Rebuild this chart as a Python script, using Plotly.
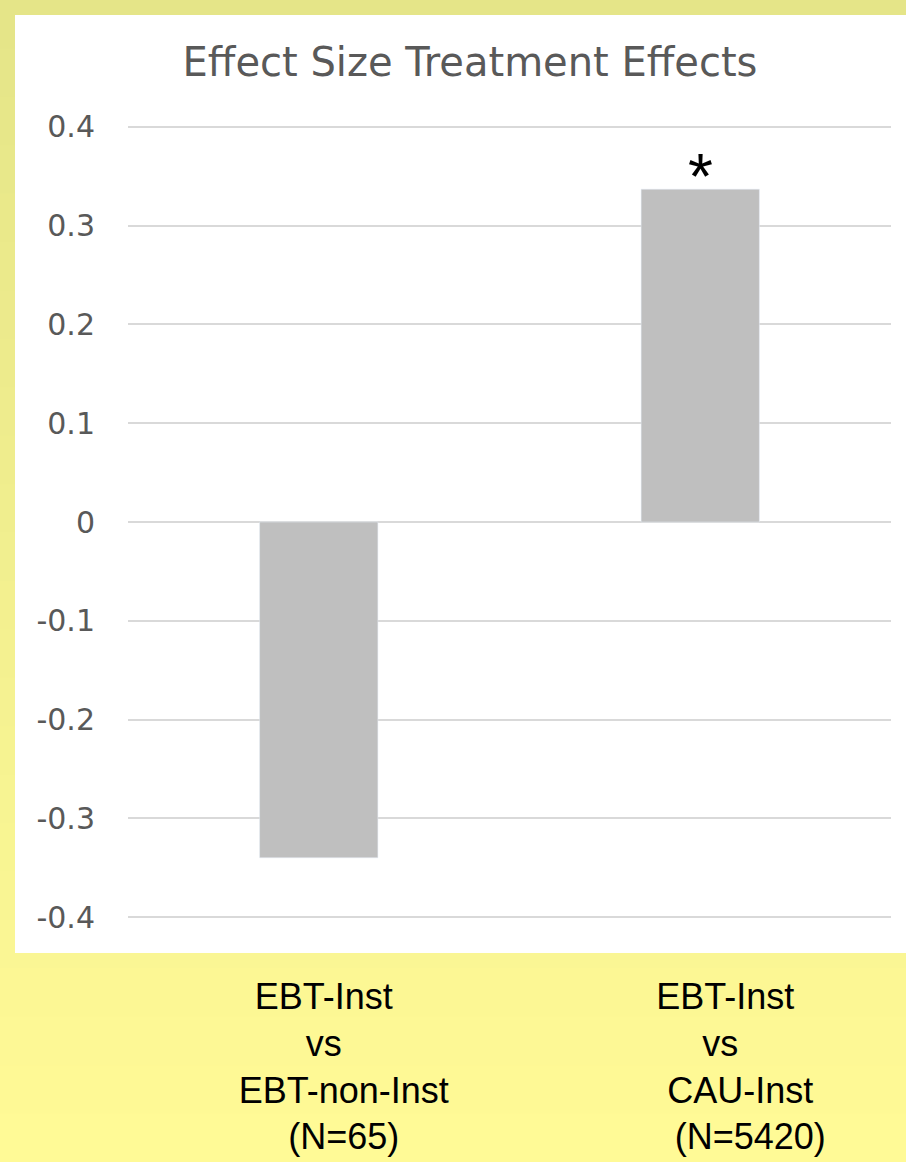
import plotly.graph_objects as go

NB = "\u00a0"
label_lines = [
    [(1, "EBT-Inst"), (1, "vs"), (5, "EBT-non-Inst"), (5, "(N=65)")],
    [(5, "EBT-Inst"), (4, "vs"), (8, "CAU-Inst"), (10, "(N=5420)")],
]
categories = ["<br>".join(NB * s + t for s, t in lines) for lines in label_lines]
values = [-0.34, 0.337]
markers = ["", "*"]
tick_vals = [-0.4, -0.3, -0.2, -0.1, 0, 0.1, 0.2, 0.3, 0.4]
tick_text = ["-0.4", "-0.3", "-0.2", "-0.1", "0", "0.1", "0.2", "0.3", "0.4"]

W, H = 906, 1162
L, R, T, B = 128, 15, 122, 240
pw, ph = W - L - R, H - T - B

def px_x(x):
    return (x - L) / pw

def px_y(y):
    return (H - B - y) / ph

fig = go.Figure()
fig.add_trace(go.Bar(
    x=[0, 1], y=values, marker_color="#bfbfbf", width=0.31,
    hoverinfo="skip",
))

for i, (v, m) in enumerate(zip(values, markers)):
    if m:
        fig.add_annotation(x=i, y=v, text=m, showarrow=False, yanchor="bottom",
                           yshift=-26, font=dict(family="Liberation Sans", size=64, color="black"))

shapes = []
top = (0xE5, 0xE5, 0x88)
bot = (0xFF, 0xFA, 0x96)
n = 24
for k in range(n):
    t = k / (n - 1)
    c = tuple(round(top[j] + (bot[j] - top[j]) * t) for j in range(3))
    y0 = k * H / n
    y1 = (k + 1) * H / n + 1
    shapes.append(dict(type="rect", xref="paper", yref="paper",
                       x0=px_x(-2), x1=px_x(W + 2), y0=px_y(y1), y1=px_y(y0),
                       fillcolor="rgb(%d,%d,%d)" % c, line_width=0, layer="below"))
shapes.append(dict(type="rect", xref="paper", yref="paper",
                   x0=px_x(15), x1=px_x(W + 5), y0=px_y(953), y1=px_y(15),
                   fillcolor="white", line_width=0, layer="below"))

fig.update_layout(
    width=W, height=H,
    margin=dict(l=L, r=R, t=T, b=B, pad=0, autoexpand=False),
    paper_bgcolor="#fff996",
    plot_bgcolor="rgba(0,0,0,0)",
    shapes=shapes,
    showlegend=False,
    title=dict(text="Effect Size Treatment Effects", x=470 / W, xanchor="center",
               y=1 - 62 / H, yanchor="middle", xref="container", yref="container",
               font=dict(family="DejaVu Sans", size=40, color="#595959")),
    bargap=0.69,
)
fig.update_yaxes(range=[-0.405, 0.405], tickvals=tick_vals, ticktext=tick_text,
                 showgrid=True, gridcolor="#d9d9d9", gridwidth=1.5,
                 zeroline=True, zerolinecolor="#d9d9d9", zerolinewidth=1.5,
                 showline=False, ticks="", ticklabelstandoff=32, automargin=False,
                 tickfont=dict(family="DejaVu Sans", size=30, color="#595959"))
fig.update_xaxes(range=[-0.5, 1.5], tickvals=[0, 1], ticktext=categories,
                 showgrid=False, zeroline=False, showline=False, ticks="",
                 ticklabelstandoff=50, automargin=False,
                 tickfont=dict(family="Liberation Sans, Arial", size=36, color="black"))

fig.write_html("out.html", config={"displayModeBar": False},
               post_script="document.body.style.margin='0';document.body.style.overflow='hidden';")
